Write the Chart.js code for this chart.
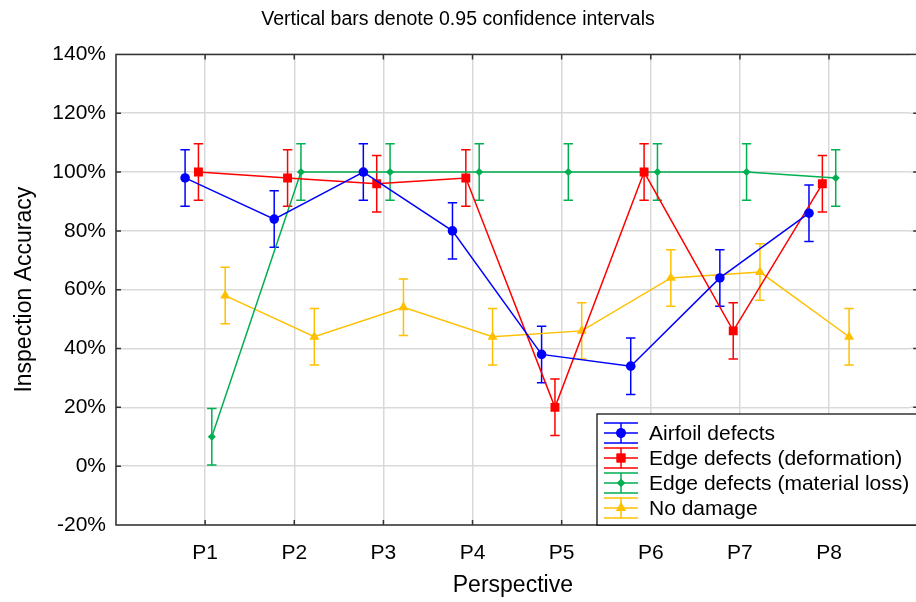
<!DOCTYPE html>
<html>
<head>
<meta charset="utf-8">
<script src="https://cdn.jsdelivr.net/npm/chart.js@4/dist/chart.umd.min.js"></script>
<style>
  html, body { margin: 0; padding: 0; background: #fff; }
  #wrap { width: 916px; height: 602px; }
</style>
</head>
<body>
<div id="wrap"><canvas id="c" width="916" height="602"></canvas></div>
<script>
// categories and values (percent)
const categories = ['P1', 'P2', 'P3', 'P4', 'P5', 'P6', 'P7', 'P8'];
const seriesNames = ['Airfoil defects', 'Edge defects (deformation)', 'Edge defects (material loss)', 'No damage'];
const airfoil = [98, 84, 100, 80, 38, 34, 64, 86];
const edgeDeform = [100, 98, 96, 98, 20, 100, 46, 96];
const edgeLoss = [10, 100, 100, 100, 100, 100, 100, 98];
const noDamage = [58, 44, 54, 44, 46, 64, 66, 44];
// half width of the 0.95 confidence intervals
const airfoilErr = [9.6, 9.6, 9.6, 9.6, 9.6, 9.6, 9.6, 9.6];
const edgeDeformErr = [9.6, 9.6, 9.6, 9.6, 9.6, 9.6, 9.6, 9.6];
const edgeLossErr = [9.6, 9.6, 9.6, 9.6, 9.6, 9.6, 9.6, 9.6];
const noDamageErr = [9.6, 9.6, 9.6, 9.6, 9.6, 9.6, 9.6, 9.6];
const yTicks = [-20, 0, 20, 40, 60, 80, 100, 120, 140];

const colors = ['#0000ff', '#ff0000', '#00b050', '#ffc000'];
const shapes = ['circle', 'rect', 'rectRot', 'triangle'];
const radii = [4.8, 6.3, 4, 5.8];
const dodge = [-0.225, -0.075, 0.075, 0.225];
const values = [airfoil, edgeDeform, edgeLoss, noDamage];
const errors = [airfoilErr, edgeDeformErr, edgeLossErr, noDamageErr];

const FONT = '"Liberation Sans", Arial, sans-serif';
// the plot frame runs a little past the right edge of the picture
const X_MAX_VISIBLE = 8.905;

const datasets = values.map((vals, k) => ({
    label: seriesNames[k],
    data: vals.map((v, i) => ({ x: i + 1 + dodge[k], y: v })),
    errs: errors[k],
    borderColor: colors[k],
    backgroundColor: colors[k],
    borderWidth: 1.5,
    pointStyle: shapes[k],
    pointRadius: radii[k],
    pointBorderWidth: 0,
    pointHoverRadius: radii[k],
    tension: 0,
    fill: false
}));

const errorBars = {
    id: 'errorBars',
    beforeDatasetsDraw(chart) {
        const ctx = chart.ctx;
        const ys = chart.scales.y;
        ctx.save();
        chart.data.datasets.forEach((ds, k) => {
            const meta = chart.getDatasetMeta(k);
            ctx.strokeStyle = ds.borderColor;
            ctx.lineWidth = 1.5;
            meta.data.forEach((pt, i) => {
                const v = ds.data[i].y;
                const e = ds.errs[i];
                const top = ys.getPixelForValue(v + e);
                const bot = ys.getPixelForValue(v - e);
                ctx.beginPath();
                ctx.moveTo(pt.x, top); ctx.lineTo(pt.x, bot);
                ctx.moveTo(pt.x - 4.7, top); ctx.lineTo(pt.x + 4.7, top);
                ctx.moveTo(pt.x - 4.7, bot); ctx.lineTo(pt.x + 4.7, bot);
                ctx.stroke();
            });
        });
        ctx.restore();
    }
};

const frameAndLegend = {
    id: 'frameAndLegend',
    afterDatasetsDraw(chart) {
        const ctx = chart.ctx;
        const a = chart.chartArea;
        const xs = chart.scales.x, ys = chart.scales.y;
        const right = xs.getPixelForValue(categories.length + 1);
        ctx.save();
        // horizontal grid lines up to the (cropped) right frame
        ctx.strokeStyle = '#d9d9d9';
        ctx.lineWidth = 1.5;
        ctx.beginPath();
        yTicks.slice(1, -1).forEach(t => {
            const py = ys.getPixelForValue(t);
            ctx.moveTo(a.right, py); ctx.lineTo(right, py);
        });
        ctx.stroke();
        // frame
        ctx.strokeStyle = '#333';
        ctx.lineWidth = 1.5;
        ctx.strokeRect(a.left, a.top, right - a.left, a.bottom - a.top);
        // inward tick marks on all four sides
        ctx.beginPath();
        for (let i = 1; i <= categories.length; i++) {
            const px = xs.getPixelForValue(i);
            ctx.moveTo(px, a.top); ctx.lineTo(px, a.top + 5);
            ctx.moveTo(px, a.bottom); ctx.lineTo(px, a.bottom - 5);
        }
        yTicks.slice(1, -1).forEach(t => {
            const py = ys.getPixelForValue(t);
            ctx.moveTo(a.left, py); ctx.lineTo(a.left + 5, py);
            ctx.moveTo(right, py); ctx.lineTo(right - 5, py);
        });
        ctx.stroke();

        // legend box
        const bx = 597, by = a.bottom - 111;
        const bw = 916 - bx + 2, bh = 111;
        ctx.fillStyle = '#fff';
        ctx.fillRect(bx, by, bw, bh);
        ctx.strokeStyle = '#000';
        ctx.lineWidth = 1.2;
        ctx.strokeRect(bx, by, bw, bh);
        chart.data.datasets.forEach((ds, k) => {
            const cy = by + 19 + k * 25;
            const x0 = bx + 7, x1 = bx + 41, cx = (x0 + x1) / 2;
            ctx.strokeStyle = ds.borderColor;
            ctx.lineWidth = 1.5;
            ctx.beginPath();
            ctx.moveTo(x0, cy); ctx.lineTo(x1, cy);
            ctx.moveTo(x0, cy - 10); ctx.lineTo(x1, cy - 10);
            ctx.moveTo(x0, cy + 10); ctx.lineTo(x1, cy + 10);
            ctx.moveTo(cx, cy - 10); ctx.lineTo(cx, cy + 10);
            ctx.stroke();
            ctx.fillStyle = ds.backgroundColor;
            Chart.helpers.drawPoint(ctx, { pointStyle: ds.pointStyle, radius: ds.pointRadius, borderWidth: 0, rotation: 0 }, cx, cy);
            ctx.fill();
            ctx.fillStyle = '#000';
            ctx.font = '21px ' + FONT;
            ctx.textBaseline = 'middle';
            ctx.fillText(ds.label, bx + 52, cy + 1);
        });
        ctx.restore();
    }
};

new Chart(document.getElementById('c'), {
    type: 'line',
    data: { datasets },
    plugins: [errorBars, frameAndLegend],
    options: {
        responsive: false,
        animation: false,
        layout: { padding: { left: 0, right: 0, top: 0, bottom: 0 } },
        plugins: {
            legend: { display: false },
            tooltip: { enabled: false },
            title: {
                display: true,
                text: 'Vertical bars denote 0.95 confidence intervals',
                color: '#000',
                font: { family: FONT, size: 19.5, weight: 'normal' },
                padding: { top: 8, bottom: 23 }
            }
        },
        scales: {
            x: {
                type: 'linear',
                min: 0,
                max: X_MAX_VISIBLE,
                afterFit: s => { s.height = 77; s.paddingLeft = 0; s.paddingRight = 0; },
                afterBuildTicks: s => { s.ticks = Array.from({ length: categories.length + 1 }, (_, i) => ({ value: i })); },
                ticks: {
                    autoSkip: false,
                    maxRotation: 0,
                    padding: 16,
                    color: '#000',
                    font: { family: FONT, size: 21 },
                    callback: v => categories[v - 1] || ''
                },
                grid: { color: '#d9d9d9', lineWidth: 1.5, drawTicks: false },
                border: { display: false },
                title: {
                    display: true,
                    text: 'Perspective',
                    color: '#000',
                    font: { family: FONT, size: 23 },
                    padding: { top: 0, bottom: 3 }
                }
            },
            y: {
                min: -20,
                max: 140,
                afterFit: s => { s.width = 116; s.paddingTop = 0; s.paddingBottom = 0; },
                afterBuildTicks: s => { s.ticks = yTicks.map(v => ({ value: v })); },
                ticks: {
                    padding: 10,
                    color: '#000',
                    font: { family: FONT, size: 21 },
                    callback: v => v + '%'
                },
                grid: { color: '#d9d9d9', lineWidth: 1.5, drawTicks: false },
                border: { display: false },
                title: {
                    display: true,
                    text: 'Inspection Accuracy',
                    color: '#000',
                    font: { family: FONT, size: 23 },
                    padding: { top: 11, bottom: 0 }
                }
            }
        }
    }
});
</script>
</body>
</html>
